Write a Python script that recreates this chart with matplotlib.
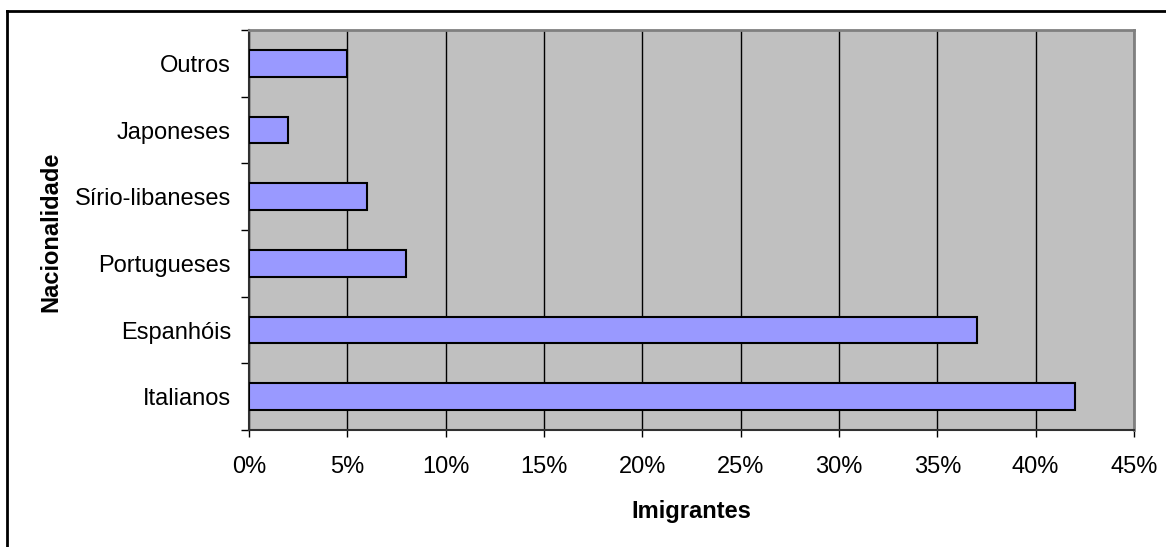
import numpy as np
import matplotlib
matplotlib.use("Agg")
import matplotlib.pyplot as plt
from matplotlib.ticker import FixedLocator, FuncFormatter
from matplotlib.lines import Line2D

plt.rcParams['font.family'] = ['Liberation Sans', 'DejaVu Sans']

# dados
nacionalidades = ["Italianos", "Espanhóis", "Portugueses", "Sírio-libaneses", "Japoneses", "Outros"]
percentuais = [42, 37, 8, 6, 2, 5]
x_ticks = [0, 5, 10, 15, 20, 25, 30, 35, 40, 45]

fig = plt.figure(figsize=(11.66, 5.47), dpi=100)
ax = fig.add_axes([249/1166, 117/547, 885/1166, 400/547])

pos = np.arange(len(nacionalidades))
ax.barh(pos, percentuais, height=0.4, color="#9999ff", edgecolor="black",
        linewidth=1.5, zorder=3)

ax.set_facecolor("#c0c0c0")
ax.set_xlim(0, 45)
ax.set_ylim(-0.5, len(nacionalidades) - 0.5)

ax.set_xticks(x_ticks)
ax.xaxis.set_major_formatter(FuncFormatter(lambda v, p: f"{int(v)}%"))
ax.grid(axis="x", color="black", linewidth=1, zorder=1)
ax.set_axisbelow(True)

ax.set_yticks(pos)
ax.set_yticklabels(nacionalidades)
ax.yaxis.set_minor_locator(FixedLocator(np.arange(-0.5, len(nacionalidades), 1)))
ax.tick_params(axis="y", which="major", length=0, pad=13, labelsize=17)
ax.tick_params(axis="y", which="minor", length=6, width=1, direction="out")
ax.tick_params(axis="x", which="major", length=5, width=1, direction="out",
               pad=14, labelsize=17)

for s in ["top", "right"]:
    ax.spines[s].set_color("#808080")
    ax.spines[s].set_linewidth(2)
for s in ["left", "bottom"]:
    ax.spines[s].set_color("#303030")
    ax.spines[s].set_linewidth(1.5)

ax.set_xlabel("Imigrantes", fontsize=17, fontweight="bold", labelpad=15.5)
ax.set_ylabel("Nacionalidade", fontsize=17, fontweight="bold")
ax.yaxis.set_label_coords((62 - 249) / 885, (430 - 232) / 400)

# moldura externa do gráfico
fig.add_artist(Line2D([7/1166, 7/1166], [0, 1 - 11/547], color="black", lw=2,
                      transform=fig.transFigure))
fig.add_artist(Line2D([7/1166, 1], [1 - 11/547, 1 - 11/547], color="black", lw=2,
                      transform=fig.transFigure))

fig.savefig("out.png", dpi=100)
